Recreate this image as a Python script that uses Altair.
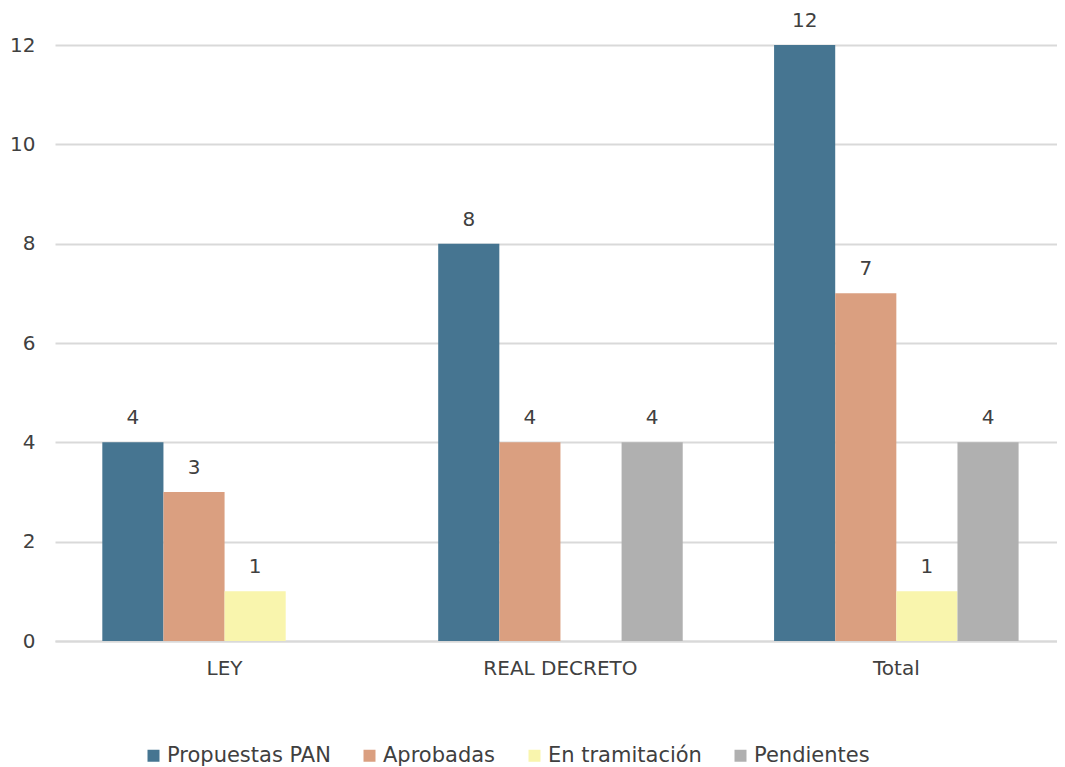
import altair as alt
import pandas as pd

categories = ["LEY", "REAL DECRETO", "Total"]
series = ["Propuestas PAN", "Aprobadas", "En tramitación", "Pendientes"]
colors = ["#467591", "#DA9F80", "#F9F5AD", "#B0B0B0"]
propuestas = [4, 8, 12]
aprobadas = [3, 4, 7]
tramitacion = [1, 0, 1]
pendientes = [0, 4, 4]

rows = []
for i, c in enumerate(categories):
    for s, vals in zip(series, [propuestas, aprobadas, tramitacion, pendientes]):
        rows.append({"cat": c, "serie": s, "valor": vals[i]})
df = pd.DataFrame(rows)

FONT = "DejaVu Sans"
TXT = "#404040"
FS = 20

x = alt.X("cat:N", sort=categories, title=None,
          scale=alt.Scale(paddingInner=0.272, paddingOuter=0.1276, align=0.552),
          axis=alt.Axis(labelAngle=0, labelFontSize=FS, labelColor=TXT, labelFont=FONT,
                        labelPadding=17, ticks=False, domain=True, domainColor="#d9d9d9",
                        domainWidth=2, grid=False, labelLimit=0))
xo = alt.XOffset("serie:N", sort=series, scale=alt.Scale(domain=series, paddingInner=0))
y = alt.Y("valor:Q", title=None,
          scale=alt.Scale(domain=[0, 12], nice=False),
          axis=alt.Axis(values=[0, 2, 4, 6, 8, 10, 12], labelFontSize=FS, labelColor=TXT,
                        labelFont=FONT, labelPadding=20, ticks=False, domain=False,
                        gridColor="#d9d9d9", gridWidth=2))
color = alt.Color("serie:N", sort=series,
                  scale=alt.Scale(domain=series, range=colors),
                  legend=alt.Legend(title=None, orient="none", direction="horizontal",
                                    legendX=88, legendY=700, symbolType="square",
                                    symbolSize=144, symbolStrokeWidth=0,
                                    labelFontSize=FS + 1, labelColor=TXT, labelFont=FONT,
                                    columnPadding=28, labelOffset=3, labelLimit=0))

base = alt.Chart(df).transform_filter("datum.valor > 0")

bars = base.mark_bar(stroke=None).encode(x=x, xOffset=xo, y=y, color=color)
labels = base.mark_text(dy=-24, baseline="middle", fontSize=FS, color=TXT, font=FONT).encode(
    x=x, xOffset=xo, y=y, text=alt.Text("valor:Q"))

chart = (bars + labels).properties(
    width=1002, height=596,
    background="white",
    autosize=alt.AutoSizeParams(type="none"),
    padding={"left": 47, "top": 37, "right": 0, "bottom": 126},
).configure_view(stroke=None)

chart.save("out.html", embed_options={"renderer": "svg", "actions": False})
